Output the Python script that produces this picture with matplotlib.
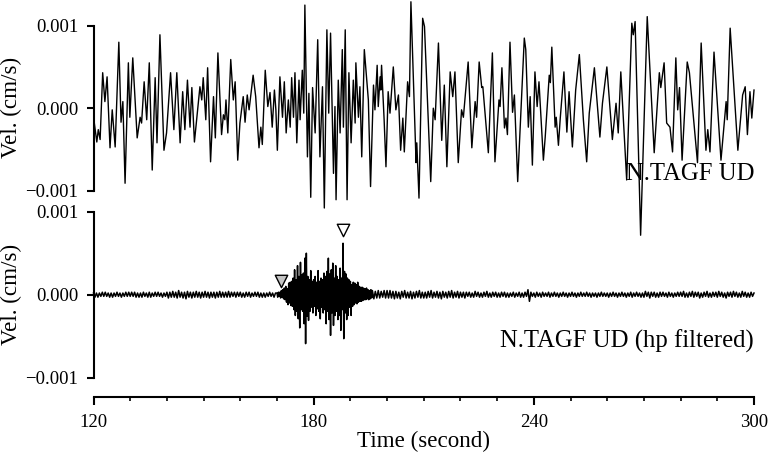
import matplotlib
matplotlib.use('Agg')
import matplotlib.pyplot as plt
import numpy as np
from matplotlib.ticker import FuncFormatter, MultipleLocator

plt.rcParams['font.family'] = ['Liberation Serif', 'DejaVu Serif']

# raw trace (N.TAGF UD), turning points
# time in seconds, velocity in 1e-5 cm/s
raw_t = [120.1, 120.9, 121.3, 121.8, 122.5, 123.1, 123.7, 124.5, 125.1, 125.9,
         126.9, 127.5, 128.0, 128.6, 129.5, 129.9, 130.7, 131.9, 132.7, 133.1,
         133.8, 134.5, 135.2, 136.0, 136.8, 137.3, 138.1, 139.2, 139.9, 141.0,
         141.9, 142.7, 143.6, 144.3, 144.9, 145.6, 146.3, 146.8, 147.5, 149.0,
         149.5, 149.9, 150.6, 151.1, 151.9, 152.7, 153.2, 153.9, 154.9, 155.4,
         155.8, 156.1, 156.6, 157.4, 158.1, 158.6, 159.3, 159.9, 160.8, 161.3,
         161.9, 162.4, 163.5, 164.2, 165.1, 165.6, 166.0, 166.8, 167.5, 168.1,
         168.7, 169.3, 169.7, 170.1, 170.8, 171.5, 172.0, 172.5, 173.1, 173.6,
         174.0, 174.5, 174.9, 175.4, 176.0, 176.3, 176.9, 177.3, 177.6, 178.3,
         178.7, 179.2, 179.7, 180.4, 181.1, 181.7, 182.4, 182.9, 183.6, 184.1,
         184.6, 185.4, 185.8, 186.1, 186.7, 187.2, 187.8, 188.1, 188.6, 189.1,
         189.6, 190.2, 190.8, 191.3, 191.5, 192.2, 192.6, 193.1, 193.8, 194.9,
         195.5, 196.3, 196.7, 197.3, 197.6, 198.1, 198.3, 198.5, 199.2, 199.7,
         200.3, 200.8, 201.7, 202.4, 203.1, 203.7, 204.3, 204.7, 205.6, 206.1,
         206.5, 207.9, 208.1, 208.7, 209.7, 210.2, 211.9, 212.6, 213.1, 214.0,
         214.9, 215.6, 216.3, 217.2, 217.9, 218.5, 219.4, 220.3, 220.8, 222.1,
         223.1, 224.0, 224.4, 225.1, 225.8, 226.1, 227.6, 228.7, 229.4, 230.5,
         230.8, 231.3, 232.0, 232.4, 232.8, 233.5, 234.2, 234.7, 235.6, 237.4,
         237.8, 238.5, 239.0, 239.6, 240.3, 240.9, 241.4, 242.6, 243.1, 244.2,
         244.5, 244.9, 245.8, 246.1, 246.7, 247.2, 248.2, 249.0, 249.6, 250.5,
         251.4, 252.4, 253.5, 254.4, 255.1, 256.5, 258.0, 258.7, 259.9, 261.4,
         262.4, 263.0, 263.7, 265.3, 266.7, 267.1, 267.6, 269.1, 270.9, 272.8,
         274.2, 274.6, 275.5, 276.2, 277.1, 277.8, 278.7, 279.2, 279.7, 280.4,
         281.8, 282.4, 284.6, 285.6, 286.9, 287.4, 288.0, 289.1, 291.0, 292.4,
         292.7, 293.5, 295.6, 296.9, 297.6, 298.2, 298.9, 299.4, 300.0]
raw_v = [-14, -41, -26, -38, 43, 8, 38, -48, -2, -47,
         80, -17, 8, -91, 55, -11, 61, -36, -11, -18,
         32, -14, 55, -75, 37, -42, 89, -51, -30, 43,
         -26, 43, -42, 20, -26, 34, -23, 25, -41, 26,
         10, 37, -14, 49, -65, 14, -36, 67, -32, -8,
         -14, 10, -30, 59, 10, 32, -63, -18, 14, -17,
         16, -2, 40, 14, -48, -23, -44, 46, 2, 19,
         -23, 22, -2, -51, 38, -11, 32, -30, 10, -23,
         37, -11, 43, -42, 34, -14, 46, -6, 125, -59,
         18, -108, 25, -30, 83, -59, 26, -121, 95, -6,
         91, -79, 2, -111, 34, -30, 71, -23, 95, -111,
         43, -42, 34, -18, 55, -11, 26, -59, 71, 10,
         -95, 28, -2, 52, 2, 38, 22, 52, -14, -71,
         20, -6, 50, -2, 16, -51, -12, -53, 32, 14,
         129, -66, -42, -109, 109, 99, -89, 0, -14, 79,
         -39, 28, -71, 44, 14, 44, -66, -2, -11, 56,
         -48, 8, -11, 56, 25, 26, -54, 67, -65, 10,
         2, 49, -24, -12, -32, 80, -5, 16, -89, 85,
         71, -23, 14, -69, 44, 2, 32, -63, -35, 40,
         31, 74, -23, -11, -45, -12, 44, -29, 20, -47,
         22, 65, -14, -65, -6, 49, -35, 6, 50, -38,
         6, -30, 44, -87, 103, 89, 105, -154, 111, -54,
         43, 25, 55, -18, -23, -53, 61, -2, 25, -63,
         56, 43, -66, 79, -51, -26, -53, 68, -63, 8,
         -14, 97, -51, 16, 26, -32, 20, -12, 22]

# high-pass filtered trace (1e-5 cm/s), read in three stretches:
# before the event every 0.4 s, the event every 0.2 s, after it every 0.4 s
hp_pre_start, hp_pre_dt = 120.0, 0.4
hp_pre = [
    2, -3, 2, -3, 2, -2, 3, -2, 3, -2, 2, -3, 2, -3, 2, -2, 3, -2, 2, -3, 2, -2, 3, -2, 3,
    -2, 3, -2, 3, -3, 2, -3, 2, -3, 3, -2, 2, -3, 3, -3, 2, -2, 3, -2, 3, -2, 2, -3, 2, -2,
    3, -4, 3, -3, 4, -3, 3, -4, 5, -3, 3, -4, 3, -5, 4, -3, 3, -4, 3, -3, 4, -3, 3, -4, 3,
    -3, 4, -3, 3, -4, 3, -3, 3, -4, 3, -3, 4, -3, 3, -3, 3, -3, 4, -3, 3, -2, 3, -3, 3, -2,
    3, -3, 2, -3, 3, -2, 3, -3, 2, -2, 3, -2, 3, -3, 2, -3, 2, -3, 2, -2, 3, -2, 2, -3, 2]
hp_ev_start, hp_ev_dt = 170.0, 0.2
hp_ev = [
    2, -3, 3, -2, 3, -4, 5, -3, 6, -5,
    8, -6, 10, -9, 7, -12, 14, -10, 15, -13,
    16, -14, 20, -18, 30, -25, 18, -20, 35, -29,
    22, -40, 39, -18, 24, -20, 26, -35, 44, -59,
    50, -26, 22, -31, 18, -20, 29, -15, 16, -22,
    18, -14, 22, -25, 15, -17, 29, -20, 16, -29,
    20, -15, 18, -22, 26, -18, 22, -35, 28, -20,
    44, -30, 25, -49, 30, -22, 38, -37, 20, -25,
    35, -20, 22, -30, 18, -25, 32, -43, 20, -18,
    62, -53, 28, -22, 25, -30, 20, -25, 18, -15,
    16, -25, 12, -14, 15, -12, 14, -10, 12, -11,
    15, -9, 10, -8, 9, -8, 9, -7, 8, -6,
    7, -6, 8, -5, 6, -6, 5, -5, 6, -4,
    5]
hp_post_start, hp_post_dt = 196.4, 0.4
hp_post = [
    -5, 4, -4, 5, -4, 4, -3, 5, -4,
    5, -4, 5, -4, 4, -5, 4, -4, 3, -5, 4, -3, 5, -4, 3, -4, 4, -5, 3, -4, 4, -3, 5, -4, 3,
    -4, 3, -4, 4, -3, 5, -4, 3, -3, 4, -4, 3, -5, 4, -3, 3, -4, 4, -3, 5, -4, 3, -3, 4, -4,
    3, -3, 3, -4, 3, -2, 3, -3, 2, -3, 4, -2, 3, -3, 2, -3, 3, -2, 4, -3, 2, -3, 3, -2, 3,
    -3, 2, -3, 3, -2, 3, -3, 2, -3, 2, -2, 3, -3, 2, -2, 3, -3, 2, -3, 3, -2, 6, -8, 3, -2,
    2, -3, 3, -2, 2, -3, 3, -2, 2, -2, 3, -3, 2, -2, 3, -2, 2, -3, 2, -2, 3, -2, 2, -3, 2,
    -2, 3, -2, 2, -3, 2, -2, 3, -2, 2, -2, 3, -2, 2, -3, 2, -2, 2, -3, 2, -2, 3, -2, 2, -2,
    2, -3, 2, -2, 3, -2, 2, -3, 2, -2, 3, -2, 2, -3, 2, -2, 3, -3, 2, -2, 3, -2, 2, -3, 2,
    -3, 4, -2, 3, -4, 3, -2, 3, -3, 2, -3, 3, -2, 3, -2, 2, -3, 3, -2, 2, -3, 2, -2, 3, -2,
    3, -2, 4, -3, 2, -3, 3, -2, 4, -3, 3, -2, 3, -4, 2, -3, 3, -2, 4, -3, 2, -3, 3, -2, 3,
    -3, 4, -2, 3, -3, 2, -4, 3, -2, 3, -3, 4, -2, 3, -3, 2, -3, 4, -2, 3, -3, 2, -3, 3, -2,
    2]

# phase picks on the filtered trace
pick_t = [171.1, 188.0]
pick_v = [17, 78]
pick_fc = ['#c4c4c4', 'white']

scale = 1e-5
raw_t = np.array(raw_t)
raw_v = np.array(raw_v) * scale
hp_t = np.concatenate([hp_pre_start + hp_pre_dt * np.arange(len(hp_pre)),
                       hp_ev_start + hp_ev_dt * np.arange(len(hp_ev)),
                       hp_post_start + hp_post_dt * np.arange(len(hp_post))])
hp_v = np.concatenate([hp_pre, hp_ev, hp_post]) * scale


def vel_fmt(x, pos):
    s = '%.3f' % x
    if s.startswith('-'):
        s = '\u2212' + s[1:]
    return s


fig = plt.figure(figsize=(7.69, 4.54), dpi=100)
ax1 = fig.add_axes([0.1216, 0.580, 0.8589, 0.3634])
ax2 = fig.add_axes([0.1216, 0.1681, 0.8589, 0.3656])

ax1.plot(raw_t, raw_v, color='black', lw=1.0, clip_on=False, zorder=3)
ax2.plot(hp_t, hp_v, color='black', lw=1.1, clip_on=False, zorder=3)
for t, v, fc in zip(pick_t, pick_v, pick_fc):
    ax2.scatter(t, v * scale, marker='v', s=80, facecolor=fc, edgecolor='black',
                linewidth=1.0, zorder=4, clip_on=False)

for ax in (ax1, ax2):
    ax.set_xlim(120, 300)
    ax.set_ylim(-0.001, 0.001)
    ax.set_facecolor('none')
    for side in ('top', 'right'):
        ax.spines[side].set_visible(False)
    ax.spines['left'].set_linewidth(1.5)
    ax.set_yticks([-0.001, 0.0, 0.001])
    ax.yaxis.set_major_formatter(FuncFormatter(vel_fmt))
    ax.tick_params(axis='y', direction='out', length=5, width=1.5, pad=6, labelsize=13.5)

ax1.spines['bottom'].set_visible(False)
ax1.set_xticks([])

ax2.spines['bottom'].set_position(('outward', 13.9))
ax2.spines['bottom'].set_linewidth(1.5)
ax2.set_xticks([120, 180, 240, 300])
ax2.xaxis.set_minor_locator(MultipleLocator(10))
ax2.tick_params(axis='x', which='major', direction='out', length=6, width=1.5, pad=6, labelsize=13.5)
ax2.tick_params(axis='x', which='minor', direction='out', length=3.2, width=1.2)
ax2.set_xlabel('Time (second)', fontsize=16.6, labelpad=0)

fig.text(11.5 / 769, 1 - 107 / 454, 'Vel. (cm/s)', rotation=90, ha='center', va='center', fontsize=16.6)
fig.text(11.5 / 769, 1 - 294 / 454, 'Vel. (cm/s)', rotation=90, ha='center', va='center', fontsize=16.6)

ax1.text(300, -0.00087, 'N.TAGF UD', ha='right', va='baseline', fontsize=17.8, zorder=5)
ax2.text(300, -0.000635, 'N.TAGF UD (hp filtered)', ha='right', va='baseline', fontsize=17.8, zorder=5)

fig.savefig('out.png', dpi=100)
